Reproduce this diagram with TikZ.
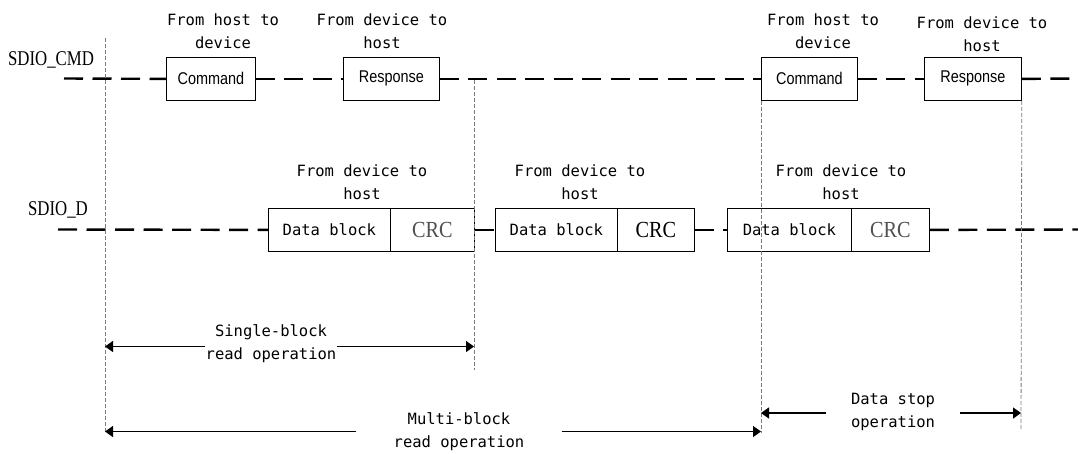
\documentclass[tikz,border=0pt]{standalone}
\usepackage{fontspec}
\setmainfont{DejaVu Sans Mono}
\newfontfamily\boxfont[FakeStretch=0.85]{Liberation Sans}
\newfontfamily\sigfont[FakeStretch=0.8]{Liberation Serif}
\newfontfamily\crcfont[FakeStretch=0.88]{Liberation Serif}
\usetikzlibrary{arrows.meta}
\definecolor{guidegray}{HTML}{7A7A7A}
\definecolor{crcgray}{HTML}{505050}
\begin{document}
\begin{tikzpicture}[x=1pt,y=-1pt,
  lbl/.style={font=\fontsize{15.5}{23}\selectfont, align=center, inner sep=0pt},
  signame/.style={font=\sigfont\fontsize{21}{21}\selectfont, inner sep=0pt},
  sig/.style={draw=black, line width=2.4pt, dash pattern=on 19pt off 9.5pt},
  guide/.style={draw=guidegray, line width=0.8pt, dash pattern=on 4pt off 2pt},
  pkt/.style={draw=black, line width=0.8pt, fill=white, minimum height=43pt, inner sep=0pt, anchor=north west},
  cmdbox/.style={pkt, font=\boxfont\fontsize{17}{17}\selectfont},
  databox/.style={pkt, font=\fontsize{15.5}{15.5}\selectfont},
  crcbox/.style={pkt, font=\crcfont\fontsize{23}{23}\selectfont, text=crcgray},
  span/.style={draw=black, line width=1.3pt, -{Triangle[length=8pt,width=11pt]}}
]
\useasboundingbox (0,0) rectangle (1078,453);

% signal names
\node[signame] (ncmd) at (51,60) {SDIO\_CMD};
\node[signame] (nd) at (58,210) {SDIO\_D};

% endpoints of signal lines
\coordinate (cmdstart) at (64,78.5);
\coordinate (cmdend) at (1078,78.5);
\coordinate (dstart) at (58,229.5);
\coordinate (dend) at (1078,229.5);

% CMD boxes
\node[cmdbox, minimum width=89pt] (cmd1) at (166,57) {Command};
\node[cmdbox, minimum width=96pt] (rsp1) at (343,57) {Response};
\node[cmdbox, minimum width=96pt] (cmd2) at (761,57) {Command};
\node[cmdbox, minimum width=97pt] (rsp2) at (924,57) {Response};

% Data boxes
\node[databox, minimum width=122pt] (db1) at (268,208) {Data block};
\node[crcbox, minimum width=84pt] (crc1) at (390,208) {CRC};
\node[databox, minimum width=122pt] (db2) at (495,208) {Data block};
\node[crcbox, minimum width=77pt, text=black] (crc2) at (617,208) {CRC};
\node[databox, minimum width=124pt] (db3) at (727,208) {Data block};
\node[crcbox, minimum width=78pt] (crc3) at (851,208) {CRC};

% signal lines
\draw[sig] (cmdstart) -- (cmd1.west);
\draw[sig] (cmd1.east) -- (rsp1.west);
\draw[sig] (rsp1.east) -- (cmd2.west);
\draw[sig] (cmd2.east) -- (rsp2.west);
\draw[sig] (rsp2.east) -- (cmdend);
\draw[sig] (dstart) -- (db1.west);
\draw[sig] (crc1.east) -- (db2.west);
\draw[sig] (crc2.east) -- (db3.west);
\draw[sig] (crc3.east) -- (dend);

% direction labels
\node[lbl] (l1) at (223,31.5) {From host to\\device};
\node[lbl] (l2) at (382,31.5) {From device to\\host};
\node[lbl] (l3) at (823,31) {From host to\\device};
\node[lbl] (l4) at (982,34) {From device to\\host};
\node[lbl] (l5) at (362,182.5) {From device to\\host};
\node[lbl] (l6) at (580,182.5) {From device to\\host};
\node[lbl] (l7) at (841,182.5) {From device to\\host};

% guide lines
\coordinate (g1top) at (105,38);
\coordinate (g1bot) at (105,433);
\coordinate (g2top) at (474,80);
\coordinate (g2bot) at (474,370);
\coordinate (g3bot) at (761,433);
\coordinate (g4bot) at (1021,430);
\draw[guide] (g1top) -- (g1bot);
\draw[guide] (g2top) -- (g2bot);
\draw[guide] (cmd2.south west) -- (g3bot);
\draw[guide] (rsp2.south east) -- (g4bot);

% span arrows
\coordinate (sL) at (105,346.5);
\coordinate (sR) at (474,346.5);
\node[lbl] (single) at (271,344) {Single-block\\read operation};
\draw[span] (single.west |- sL) -- (sL);
\draw[span] (single.east |- sR) -- (sR);

\coordinate (mL) at (105,431.5);
\coordinate (mR) at (761,431.5);
\node[lbl, inner xsep=37pt] (multi) at (459,431.5) {Multi-block\\read operation};
\draw[span] (multi.west |- mL) -- (mL);
\draw[span] (multi.east |- mR) -- (mR);

\coordinate (dL) at (761,413);
\coordinate (dR) at (1021,413);
\node[lbl, inner xsep=25pt] (dstop) at (893,412) {Data stop\\operation};
\draw[span] (dstop.west |- dL) -- (dL);
\draw[span] (dstop.east |- dR) -- (dR);
\end{tikzpicture}
\end{document}
